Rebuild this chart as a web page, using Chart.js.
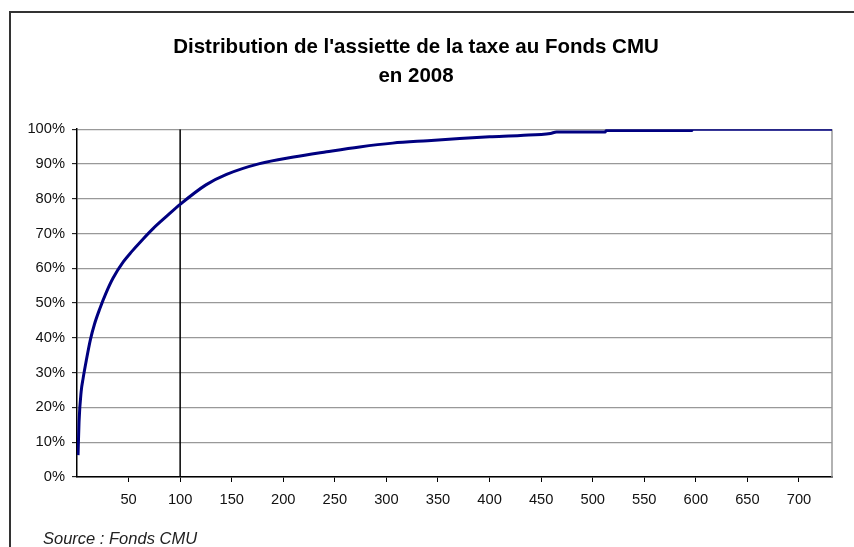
<!DOCTYPE html>
<html>
<head>
<meta charset="utf-8">
<script src="https://cdn.jsdelivr.net/npm/chart.js@4/dist/chart.umd.min.js"></script>
<style>
  html, body { margin: 0; padding: 0; background: #fff; overflow: hidden; }
  #wrap { position: relative; width: 854px; height: 547px; overflow: hidden; }
  #frame { position: absolute; left: 9px; top: 11px; width: 900px; height: 600px; border: 2px solid #333; box-sizing: border-box; }
  #c { position: absolute; left: 0; top: 0; }
  #source { position: absolute; left: 43px; top: 529px; font: italic 16.5px "Liberation Sans", Arial, sans-serif; color: #222; white-space: nowrap; }
</style>
</head>
<body>
<div id="wrap">
  <div id="frame"></div>
  <canvas id="c" width="854" height="547"></canvas>
  <div id="source">Source : Fonds CMU</div>
</div>
<script>
// Data
const titleLines = ["Distribution de l'assiette de la taxe au Fonds CMU", "en 2008"];
const xValues = [1, 2, 4, 6, 9, 13, 17, 22, 28, 35, 45, 53, 63, 74, 87, 100, 125, 145, 177, 210, 242, 274, 306, 340, 371, 400, 430, 459, 465, 512, 513, 596, 597, 732];
const yValues = [6.3, 16, 24.5, 28.5, 33.5, 39.5, 44, 48.3, 52.8, 57.2, 61.9, 64.8, 68.1, 71.5, 75.0, 78.4, 84.0, 87.0, 90.1, 92.0, 93.5, 94.9, 96.0, 96.7, 97.3, 97.8, 98.2, 98.8, 99.2, 99.2, 99.6, 99.6, 100, 100];
const refLineX = [100, 100];
const refLineY = [0, 100];
const xTickValues = [50, 100, 150, 200, 250, 300, 350, 400, 450, 500, 550, 600, 650, 700];
const xMax = 732;

const curve = xValues.map((x, i) => ({ x: x, y: yValues[i] }));
const ref = refLineX.map((x, i) => ({ x: x, y: refLineY[i] }));

const plotBorder = {
  id: 'plotBorder',
  beforeDatasetsDraw(chart) {
    const { ctx, chartArea: a } = chart;
    ctx.save();
    ctx.strokeStyle = '#999';
    ctx.lineWidth = 1.5;
    ctx.beginPath();
    ctx.moveTo(a.right, a.top);
    ctx.lineTo(a.right, a.bottom);
    ctx.stroke();
    ctx.restore();
  }
};

const FONT = "'Liberation Sans', Arial, sans-serif";

new Chart(document.getElementById('c'), {
  type: 'line',
  data: {
    datasets: [
      { data: curve, borderColor: '#000080', borderWidth: 3, pointRadius: 0, cubicInterpolationMode: 'monotone', order: 1 },
      { data: ref, borderColor: '#000', borderWidth: 1.5, pointRadius: 0, order: 2 }
    ]
  },
  options: {
    responsive: false,
    animation: false,
    events: [],
    layout: { padding: { left: 0, right: 22, top: 0, bottom: 0 } },
    plugins: {
      legend: { display: false },
      tooltip: { enabled: false },
      title: {
        display: true,
        text: titleLines,
        color: '#000',
        font: { family: FONT, size: 20.5, weight: 'bold', lineHeight: 1.42 },
        padding: { top: 33, bottom: 38 }
      }
    },
    scales: {
      x: {
        type: 'linear',
        min: 0,
        max: xMax,
        afterBuildTicks(scale) { scale.ticks = xTickValues.map(v => ({ value: v })); },
        afterFit(scale) { scale.height = 70; },
        grid: { drawOnChartArea: false, drawTicks: true, tickLength: 5, tickColor: '#000', tickWidth: 1 },
        border: { display: true, color: '#000', width: 1.5 },
        ticks: { color: '#111', font: { family: FONT, size: 14.7 }, padding: 9, maxRotation: 0, autoSkip: false }
      },
      y: {
        min: 0,
        max: 100,
        afterFit(scale) { scale.width = 77; },
        grid: { color: '#999', lineWidth: 1.3, drawTicks: true, tickLength: 5, tickColor: '#000', tickWidth: 1 },
        border: { display: true, color: '#000', width: 1.5 },
        ticks: { stepSize: 10, color: '#111', font: { family: FONT, size: 14.7 }, padding: 7, callback: v => v + '%' }
      }
    }
  },
  plugins: [plotBorder]
});
</script>
</body>
</html>
